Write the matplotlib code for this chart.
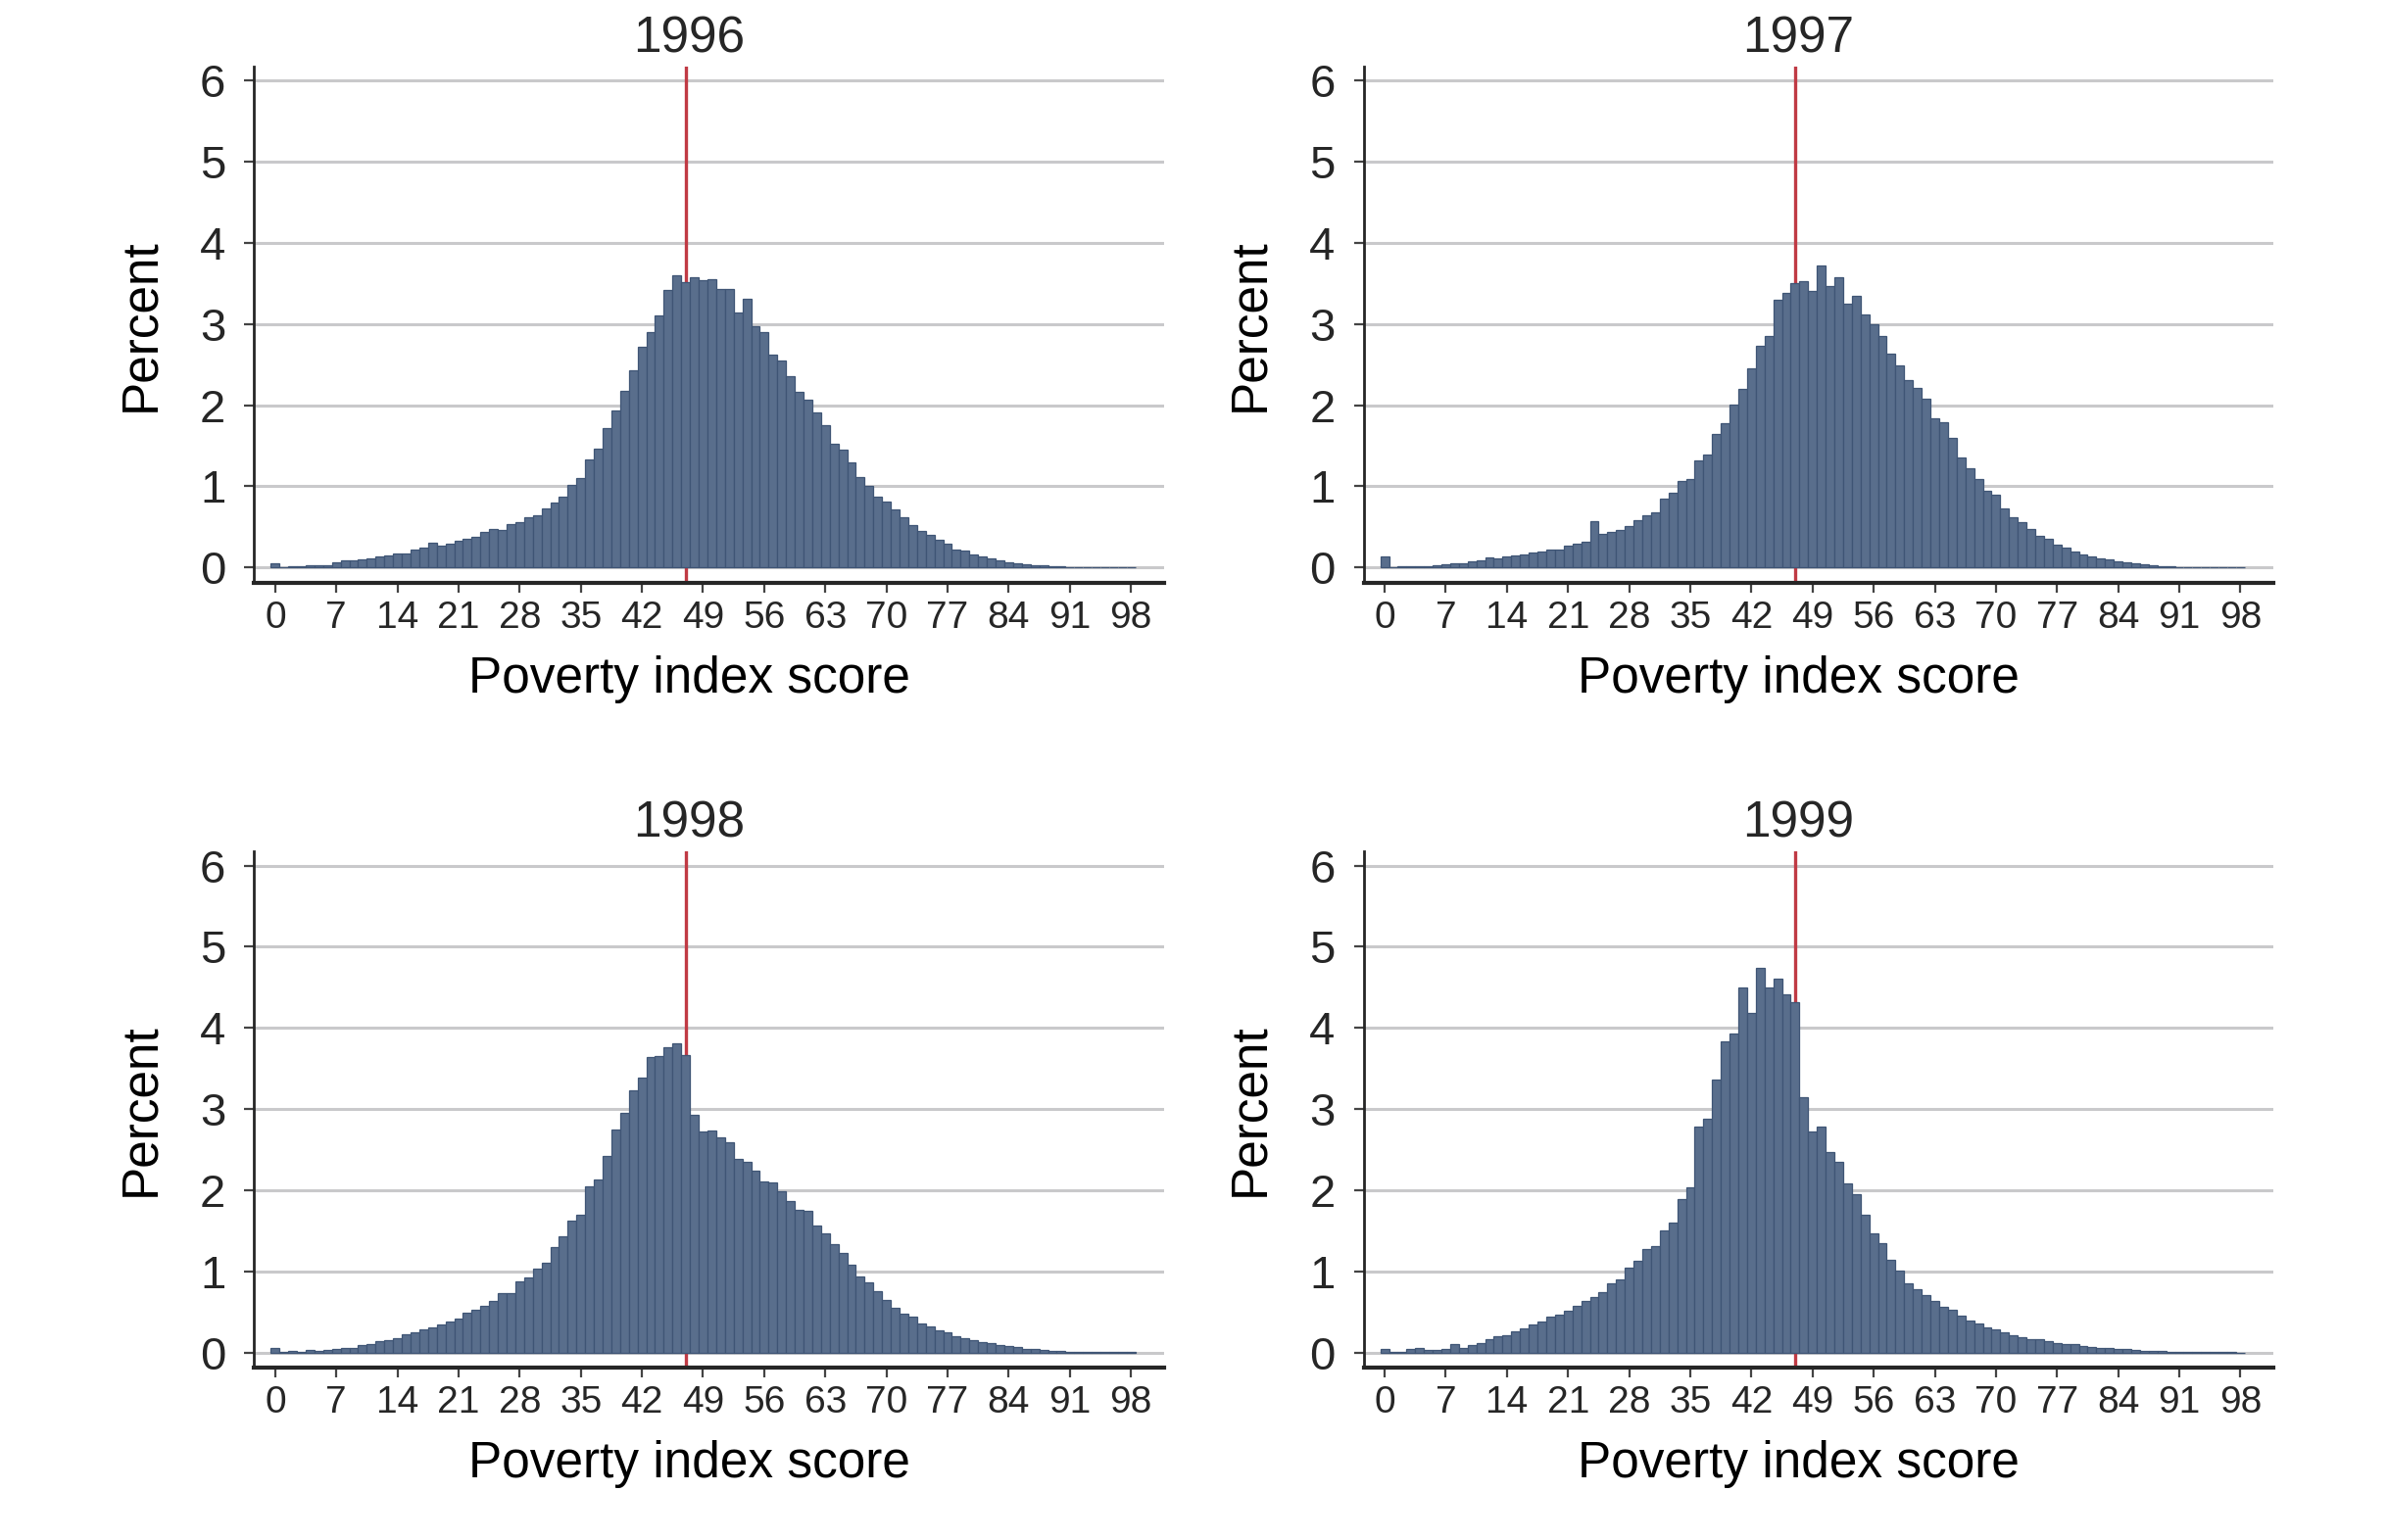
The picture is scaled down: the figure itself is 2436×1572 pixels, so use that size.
import numpy as np
import matplotlib.pyplot as plt

# ---- Data: percent of households per poverty index score (bins of width 1) ----
scores = np.arange(99)
cutoff = 47
years = ["1996", "1997", "1998", "1999"]

pct_1996 = [
    0.056, 0.005, 0.020, 0.012, 0.028, 0.028, 0.032, 0.060, 0.089, 0.085,
    0.105, 0.113, 0.140, 0.153, 0.173, 0.177, 0.225, 0.250, 0.306, 0.270,
    0.294, 0.326, 0.358, 0.378, 0.435, 0.470, 0.467, 0.530, 0.563, 0.624,
    0.640, 0.728, 0.797, 0.873, 1.018, 1.103, 1.332, 1.461, 1.718, 1.936,
    2.181, 2.435, 2.716, 2.901, 3.103, 3.420, 3.606, 3.521, 3.573, 3.545,
    3.557, 3.430, 3.430, 3.139, 3.308, 2.970, 2.905, 2.628, 2.551, 2.358,
    2.165, 2.064, 1.907, 1.755, 1.529, 1.457, 1.296, 1.111, 1.006, 0.877,
    0.813, 0.716, 0.620, 0.519, 0.447, 0.398, 0.342, 0.294, 0.217, 0.213,
    0.165, 0.133, 0.109, 0.085, 0.064, 0.056, 0.040, 0.032, 0.024, 0.012,
    0.012, 0.008, 0.005, 0.005, 0.005, 0.005, 0.005, 0.000, 0.005,
]
pct_1997 = [
    0.137, 0.005, 0.012, 0.012, 0.016, 0.020, 0.024, 0.036, 0.052, 0.048,
    0.080, 0.089, 0.121, 0.113, 0.133, 0.153, 0.165, 0.181, 0.201, 0.217,
    0.217, 0.266, 0.290, 0.314, 0.567, 0.414, 0.443, 0.463, 0.507, 0.579,
    0.640, 0.676, 0.853, 0.926, 1.066, 1.086, 1.320, 1.392, 1.650, 1.783,
    2.008, 2.197, 2.459, 2.736, 2.849, 3.304, 3.380, 3.501, 3.533, 3.412,
    3.718, 3.465, 3.573, 3.256, 3.344, 3.123, 2.998, 2.849, 2.632, 2.487,
    2.306, 2.217, 2.084, 1.835, 1.795, 1.602, 1.352, 1.227, 1.086, 0.950,
    0.893, 0.732, 0.624, 0.555, 0.479, 0.386, 0.350, 0.282, 0.245, 0.197,
    0.165, 0.133, 0.109, 0.097, 0.076, 0.064, 0.048, 0.036, 0.024, 0.020,
    0.012, 0.008, 0.005, 0.005, 0.005, 0.005, 0.005, 0.004, 0.000,
]
pct_1998 = [
    0.056, 0.012, 0.016, 0.012, 0.032, 0.024, 0.028, 0.044, 0.056, 0.056,
    0.089, 0.105, 0.141, 0.153, 0.181, 0.225, 0.250, 0.290, 0.310, 0.342,
    0.382, 0.423, 0.495, 0.527, 0.575, 0.640, 0.728, 0.728, 0.877, 0.926,
    1.034, 1.111, 1.300, 1.429, 1.622, 1.702, 2.052, 2.129, 2.423, 2.748,
    2.958, 3.235, 3.392, 3.638, 3.650, 3.763, 3.811, 3.662, 2.926, 2.724,
    2.736, 2.648, 2.588, 2.382, 2.350, 2.245, 2.109, 2.101, 1.988, 1.867,
    1.763, 1.746, 1.565, 1.465, 1.340, 1.223, 1.078, 0.942, 0.861, 0.761,
    0.648, 0.551, 0.483, 0.439, 0.354, 0.318, 0.278, 0.245, 0.201, 0.181,
    0.153, 0.129, 0.113, 0.089, 0.080, 0.072, 0.048, 0.040, 0.032, 0.024,
    0.016, 0.012, 0.010, 0.010, 0.008, 0.008, 0.006, 0.005, 0.005,
]
pct_1999 = [
    0.048, 0.012, 0.012, 0.044, 0.052, 0.028, 0.036, 0.040, 0.100, 0.056,
    0.093, 0.117, 0.161, 0.197, 0.209, 0.261, 0.294, 0.342, 0.378, 0.438,
    0.467, 0.515, 0.571, 0.632, 0.688, 0.740, 0.849, 0.897, 1.050, 1.126,
    1.271, 1.307, 1.500, 1.601, 1.887, 2.031, 2.780, 2.884, 3.359, 3.837,
    3.926, 4.493, 4.187, 4.739, 4.493, 4.602, 4.413, 4.320, 3.146, 2.719,
    2.787, 2.474, 2.349, 2.080, 1.947, 1.697, 1.472, 1.343, 1.142, 1.014,
    0.853, 0.780, 0.712, 0.636, 0.567, 0.523, 0.451, 0.390, 0.354, 0.310,
    0.282, 0.249, 0.213, 0.193, 0.169, 0.161, 0.137, 0.113, 0.109, 0.100,
    0.076, 0.064, 0.060, 0.056, 0.048, 0.040, 0.028, 0.020, 0.016, 0.016,
    0.012, 0.010, 0.008, 0.008, 0.006, 0.006, 0.005, 0.005, 0.000,
]
series = [pct_1996, pct_1997, pct_1998, pct_1999]

x_ticks = list(range(0, 99, 7))
y_ticks = list(range(0, 7))

BAR_COLOR = "#596e8c"
EDGE_COLOR = "#3f5575"
LINE_COLOR = "#c03a44"
GRID_COLOR = "#c9c9cb"
AXIS_COLOR = "#262626"

plt.rcParams["font.family"] = ["Liberation Sans", "DejaVu Sans"]
plt.rcParams["text.color"] = "#262626"

fig = plt.figure(figsize=(24.36, 15.72), dpi=100)

# axes boxes [left, bottom, width, height] in figure fractions
boxes = [
    [0.1065, 0.6215, 0.3812, 0.3355],
    [0.5713, 0.6215, 0.3812, 0.3355],
    [0.1065, 0.1117, 0.3812, 0.3357],
    [0.5713, 0.1117, 0.3812, 0.3357],
]

for box, year, vals in zip(boxes, years, series):
    ax = fig.add_axes(box)
    ax.bar(scores, vals, width=1.0, color=BAR_COLOR, edgecolor=EDGE_COLOR,
           linewidth=0.9, zorder=3)
    ax.axvline(cutoff, color=LINE_COLOR, linewidth=2.4, zorder=2)

    ax.set_xlim(-2.4, 101.8)
    ax.set_ylim(-0.19, 6.18)
    ax.set_xticks(x_ticks)
    ax.set_yticks(y_ticks)

    ax.grid(axis="y", color=GRID_COLOR, linewidth=2.2, zorder=1)
    ax.set_axisbelow(True)

    for side in ["top", "right"]:
        ax.spines[side].set_visible(False)
    ax.spines["left"].set_linewidth(2.0)
    ax.spines["left"].set_color(AXIS_COLOR)
    ax.spines["bottom"].set_linewidth(3.0)
    ax.spines["bottom"].set_color(AXIS_COLOR)

    ax.tick_params(axis="x", length=7, width=1.6, color="#444444",
                   labelsize=28, pad=6, labelcolor="#262626")
    ax.tick_params(axis="y", length=7, width=1.6, color="#444444",
                   labelsize=34, pad=14, labelcolor="#262626")

    ax.set_title(year, fontsize=37, pad=10, x=0.478)
    ax.set_xlabel("Poverty index score", fontsize=37, labelpad=14)
    ax.xaxis.label.set_x(0.478)
    ax.set_ylabel("Percent", fontsize=37, labelpad=26)

fig.savefig("out.png", dpi=100, facecolor="white")
